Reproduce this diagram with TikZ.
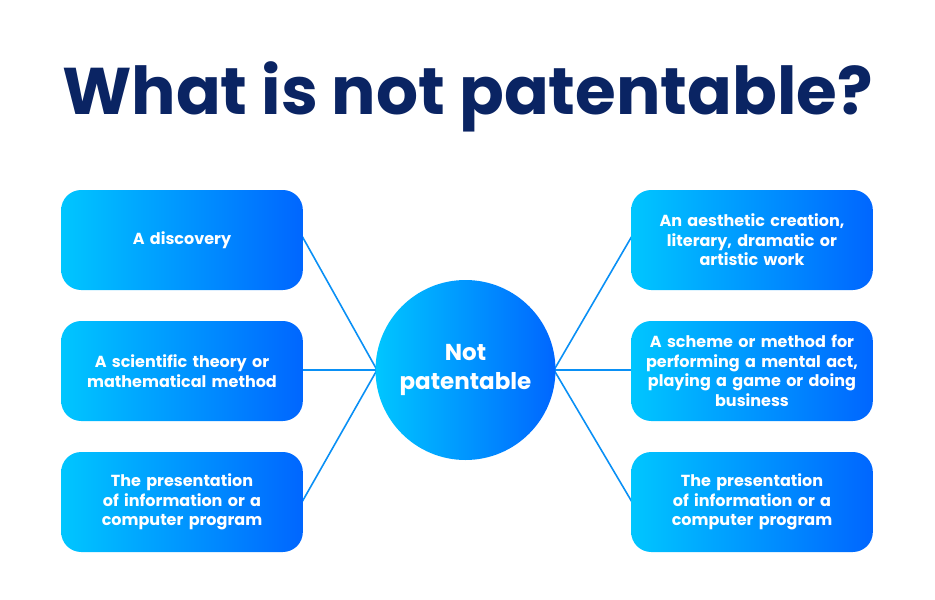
\documentclass[tikz,border=0pt]{standalone}
\usepackage{fontspec}
\setmainfont{Poppins}
\definecolor{navy}{HTML}{0A2463}
\definecolor{cyanA}{HTML}{00C6FF}
\definecolor{blueA}{HTML}{0066FF}
\definecolor{lineC}{HTML}{0A90F5}
\begin{document}
\begin{tikzpicture}[x=1pt,y=-1pt,
  box/.style={rounded corners=20pt,minimum width=240pt,minimum height=100pt,left color=cyanA,right color=blueA,draw=none,text=white,align=center,font=\fontsize{16}{19.5}\selectfont\bfseries,text width=235pt},
  hub/.style={circle,minimum size=180pt,left color=cyanA,right color=blueA,text=white,align=center,font=\fontsize{23}{29}\selectfont\bfseries},
  link/.style={lineC,line width=1.6pt}]
\useasboundingbox (0,0) rectangle (935,600);
\node[text=navy,font=\fontsize{66}{70}\selectfont\bfseries] (title) at (467.5,97) {What is not patentable?};
\coordinate (cl) at (377,370);
\coordinate (cr) at (554,370);
\coordinate (l1) at (302,236);
\coordinate (l2) at (302,370);
\coordinate (l3) at (302,502);
\coordinate (r1) at (632,236);
\coordinate (r2) at (632,370);
\coordinate (r3) at (632,502);
\draw[link] (l1) -- (cl); \draw[link] (l2) -- (cl); \draw[link] (l3) -- (cl);
\draw[link] (r1) -- (cr); \draw[link] (r2) -- (cr); \draw[link] (r3) -- (cr);
\node[box] (a) at (182,240) {A discovery};
\node[box] (b) at (182,371) {A scientific theory or\\mathematical method};
\node[box] (c) at (182,502) {The presentation\\of information or a\\computer program};
\node[box] (d) at (752,240) {An aesthetic creation,\\literary, dramatic or\\artistic work};
\node[box] (e) at (752,371) {A scheme or method for\\performing a mental act,\\playing a game or doing\\business};
\node[box] (f) at (752,502) {The presentation\\of information or a\\computer program};
\node[hub] (hub) at (465.5,370) {Not\\patentable};
\end{tikzpicture}
\end{document}
